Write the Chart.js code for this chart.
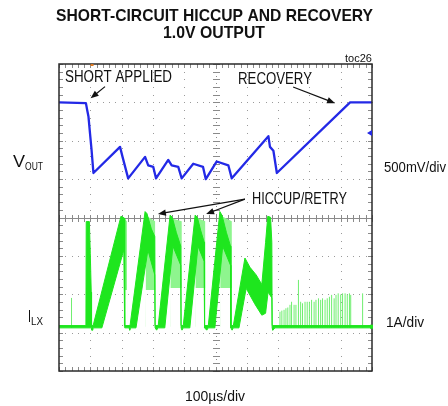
<!DOCTYPE html>
<html>
<head>
<meta charset="utf-8">
<script src="https://cdn.jsdelivr.net/npm/chart.js@4.4.1/dist/chart.umd.min.js"></script>
<style>
  html, body { margin: 0; padding: 0; background: #fff; }
  canvas { display: block; }
</style>
</head>
<body>
<canvas id="scope" width="448" height="406"></canvas>
<script>
// time axis: 100us/div, 10 divs
// VOUT in volts (500mV/div), ILX in amps (1A/div)
const voutT = [0, 86, 90, 94, 99, 104, 110, 195, 203, 221, 275, 285, 301, 310, 349, 360, 381, 392, 429, 460, 469, 504, 541, 552, 669, 674, 685, 696, 930, 1000];
const voutV = [1.0, 0.99, 0.9, 0.82, 0.6, 0.38, 0.08, 0.42, 0.29, 0.01, 0.29, 0.18, 0.16, 0.01, 0.25, 0.18, 0.16, 0.01, 0.2, 0.16, 0.0, 0.23, 0.18, 0.01, 0.56, 0.42, 0.37, 0.08, 1.0, 1.0];

// inductor current - upper and lower edge of the dense switching band
const ilHiT = [0, 86, 87, 97, 100, 103, 104, 109, 198, 209, 210, 227, 275, 281, 295, 306, 307, 317, 355, 362, 375, 389, 390, 397, 435, 442, 453, 464, 465, 477, 514, 521, 535, 548, 549, 557, 594, 610, 630, 648, 660, 667, 676, 680, 681, 1000];
const ilHiA = [0.03, 0.03, 2.74, 2.74, 1.9, 0.9, 0.03, 0.03, 2.88, 2.83, 0.03, 0.03, 3.0, 2.95, 2.55, 2.35, 0.03, 0.03, 2.91, 2.85, 2.45, 2.1, 0.03, 0.03, 2.91, 2.85, 2.5, 2.2, 0.03, 0.03, 3.0, 2.9, 2.45, 2.1, 0.03, 0.03, 1.79, 1.55, 1.35, 1.1, 2.2, 2.88, 2.85, 2.2, 0.03, 0.03];
const ilLoT = [0, 104, 105, 108, 109, 137, 207, 210, 224, 226, 228, 246, 284, 306, 307, 312, 316, 338, 364, 389, 390, 393, 397, 418, 444, 464, 465, 472, 477, 498, 523, 548, 549, 553, 557, 575, 598, 625, 648, 660, 668, 680, 681, 683, 690, 1000];
const ilLoA = [-0.03, -0.03, -0.09, -0.09, -0.03, -0.03, 2.0, -0.03, -0.03, -0.09, -0.03, -0.03, 2.0, 1.35, -0.03, -0.09, -0.03, -0.03, 2.1, 1.6, -0.03, -0.09, -0.03, -0.03, 2.1, 1.7, -0.03, -0.09, -0.03, -0.03, 2.1, 1.6, -0.03, -0.09, -0.03, -0.03, 1.0, 0.6, 0.3, 0.35, 0.9, 0.75, -0.03, -0.09, -0.03, -0.03];

// faint ringing after each hiccup peak
const lightT = [0, 207, 207.5, 217, 217.5, 277, 277.5, 307, 307.5, 356, 356.5, 392, 392.5, 436, 436.5, 467, 467.5, 515, 515.5, 552, 552.5, 1000];
const lightHiA = [0, 0, 2.83, 2.75, 0, 0, 2.9, 2.75, 0, 0, 2.83, 2.75, 0, 0, 2.85, 2.75, 0, 0, 2.9, 2.75, 0, 0];
const lightLoA = [0, 0, 0.96, 0.96, 0, 0, 0.96, 0.96, 0, 0, 1.01, 1.01, 0, 0, 1.01, 1.01, 0, 0, 1.01, 1.01, 0, 0];

// single switching pulses during recovery
const spikeT = [40, 706, 712, 719, 725, 731, 738, 743, 751, 757, 765, 772, 778, 786, 793, 800, 807, 815, 821, 829, 836, 842, 850, 857, 864, 871, 879, 885, 892, 900, 906, 914, 921, 928, 932, 970];
const spikeA = [0.75, 0.39, 0.42, 0.44, 0.48, 0.5, 0.57, 0.65, 0.57, 0.57, 1.22, 0.65, 0.61, 0.65, 0.65, 0.65, 0.7, 0.65, 0.7, 0.74, 0.7, 0.74, 0.7, 0.74, 0.78, 0.83, 0.74, 0.83, 0.87, 0.84, 0.87, 0.87, 0.84, 0.87, 0.83, 0.87];

// screen placement of each channel (in divisions from the bottom)
const VOUT_ZERO = 5, VOUT_PER_DIV = 0.5;
const ILX_ZERO = 1.154, ILX_PER_DIV = 1;

const vDiv = v => VOUT_ZERO + v / VOUT_PER_DIV;
const iDiv = a => ILX_ZERO + a / ILX_PER_DIV;
const pts = (ts, vs, f) => ts.map((t, i) => ({ x: t, y: f(vs[i]) }));

const spikePts = [];
spikeT.forEach((t, i) => {
    spikePts.push({ x: t, y: iDiv(-0.03) }, { x: t, y: iDiv(spikeA[i]) }, { x: t, y: null });
});

const BLUE = '#2329e6';
const GREEN = '#1ee61e';
const LIGHT_GREEN = '#8ef58e';
const SPIKE_GREEN = '#6fee6f';

function fitText(ctx, text, x, y, width, font, align) {
    ctx.save();
    ctx.font = font;
    ctx.textBaseline = 'alphabetic';
    ctx.textAlign = 'left';
    const w = ctx.measureText(text).width;
    const sx = width / w;
    let left = x;
    if (align === 'center') left = x - width / 2;
    if (align === 'right') left = x - width;
    ctx.translate(left, y);
    ctx.scale(sx, 1);
    ctx.fillText(text, 0, 0);
    ctx.restore();
}

function arrow(ctx, x1, y1, x2, y2) {
    const a = Math.atan2(y2 - y1, x2 - x1);
    const len = 8, half = 3.2;
    ctx.beginPath();
    ctx.moveTo(x1, y1);
    ctx.lineTo(x2 - Math.cos(a) * len * 0.8, y2 - Math.sin(a) * len * 0.8);
    ctx.stroke();
    ctx.beginPath();
    ctx.moveTo(x2, y2);
    ctx.lineTo(x2 - Math.cos(a) * len + Math.sin(a) * half, y2 - Math.sin(a) * len - Math.cos(a) * half);
    ctx.lineTo(x2 - Math.cos(a) * len - Math.sin(a) * half, y2 - Math.sin(a) * len + Math.cos(a) * half);
    ctx.closePath();
    ctx.fill();
}

const scopeScreen = {
    id: 'scopeScreen',
    beforeDatasetsDraw(chart) {
        const { ctx, chartArea: a } = chart;
        const xs = chart.scales.x, ys = chart.scales.y;
        const px = d => Math.round(xs.getPixelForValue(d * 100));
        const py = d => Math.round(ys.getPixelForValue(d));
        ctx.save();
        ctx.fillStyle = '#9a9a9a';
        // dotted graticule
        for (let i = 1; i < 10; i++) {
            if (i === 5) continue;
            for (let j = 0; j <= 40; j++) ctx.fillRect(px(i), py(j / 5), 1, 1);
        }
        for (let k = 1; k < 8; k++) {
            if (k === 4) continue;
            for (let i = 0; i <= 50; i++) ctx.fillRect(px(i / 5), py(k), 1, 1);
        }
        // centre lines with minor ticks
        ctx.fillStyle = '#8a8a8a';
        ctx.fillRect(a.left, py(4), a.right - a.left, 1);
        for (let i = 0; i <= 50; i++) ctx.fillRect(px(i / 5), py(4) - 3, 1, 7);
        for (let j = 0; j <= 40; j++) {
            ctx.fillRect(px(5) - 3, py(j / 5), 7, 1);
        }
        for (let j = 0; j <= 80; j++) ctx.fillRect(px(5), Math.round(a.top + j * (a.bottom - a.top) / 80), 1, 1);
        // edge ticks
        for (let i = 0; i <= 50; i++) {
            ctx.fillRect(px(i / 5), a.top, 1, 4);
            ctx.fillRect(px(i / 5), a.bottom - 4, 1, 4);
        }
        for (let j = 0; j <= 40; j++) {
            ctx.fillRect(a.left, py(j / 5), 4, 1);
            ctx.fillRect(a.right - 4, py(j / 5), 4, 1);
        }
        ctx.restore();
    },
    afterDatasetsDraw(chart) {
        const { ctx, chartArea: a } = chart;
        const xs = chart.scales.x, ys = chart.scales.y;
        const px = t => xs.getPixelForValue(t);
        const py = d => ys.getPixelForValue(d);
        ctx.save();
        ctx.strokeStyle = '#2a2a2a';
        ctx.lineWidth = 1.5;
        ctx.strokeRect(a.left, a.top, a.right - a.left, a.bottom - a.top);

        // channel markers
        ctx.fillStyle = BLUE;
        ctx.beginPath();
        ctx.moveTo(a.right - 5, py(6.2));
        ctx.lineTo(a.right, py(6.2) - 3);
        ctx.lineTo(a.right, py(6.2) + 3);
        ctx.closePath();
        ctx.fill();
        ctx.fillStyle = GREEN;
        ctx.fillRect(a.right - 2, py(ILX_ZERO) - 2, 3, 4);
        ctx.fillStyle = '#e07a20';
        ctx.fillRect(px(104) - 1, a.top, 3, 2);

        // annotations
        ctx.fillStyle = '#111';
        ctx.strokeStyle = '#111';
        ctx.lineWidth = 1.2;
        arrow(ctx, px(147), py(7.41), px(101), py(7.11));
        arrow(ctx, px(748), py(7.40), px(882), py(6.98));
        arrow(ctx, px(594), py(4.48), px(316), py(4.09));
        arrow(ctx, px(594), py(4.48), px(470), py(4.09));

        const f = 'Liberation Sans, Arial, sans-serif';
        fitText(ctx, 'SHORT APPLIED', 65, 82, 107, '16px ' + f);
        fitText(ctx, 'RECOVERY', 238, 84, 74, '16px ' + f);
        fitText(ctx, 'HICCUP/RETRY', 252, 204, 95, '16px ' + f);

        fitText(ctx, 'SHORT-CIRCUIT HICCUP AND RECOVERY', 214.5, 21, 317, 'bold 17px ' + f, 'center');
        fitText(ctx, '1.0V OUTPUT', 214, 38, 102, 'bold 17px ' + f, 'center');
        fitText(ctx, 'toc26', 372, 62, 27, '10px ' + f, 'right');

        fitText(ctx, 'V', 13, 167, 12, '16px ' + f);
        fitText(ctx, 'OUT', 25, 170, 18, '11px ' + f);
        fitText(ctx, 'I', 28, 322, 3, '16px ' + f);
        fitText(ctx, 'LX', 31, 325, 12, '11px ' + f);

        fitText(ctx, '500mV/div', 384, 172, 62, '15px ' + f);
        fitText(ctx, '1A/div', 386, 327, 38, '15px ' + f);
        fitText(ctx, '100µs/div', 185, 401, 60, '15px ' + f);
        ctx.restore();
    }
};

new Chart(document.getElementById('scope'), {
    type: 'line',
    data: {
        datasets: [
            {
                label: 'VOUT',
                data: pts(voutT, voutV, vDiv),
                borderColor: BLUE,
                borderWidth: 2.3,
                borderJoinStyle: 'round',
                fill: false,
                order: 1
            },
            {
                label: 'ILX high',
                data: pts(ilHiT, ilHiA, iDiv),
                borderColor: GREEN,
                backgroundColor: GREEN,
                borderWidth: 1,
                fill: '+1',
                order: 3
            },
            {
                label: 'ILX low',
                data: pts(ilLoT, ilLoA, iDiv),
                borderColor: GREEN,
                borderWidth: 1,
                fill: false,
                order: 3
            },
            {
                label: 'ILX ring high',
                data: pts(lightT, lightHiA, iDiv),
                borderColor: 'rgba(0,0,0,0)',
                backgroundColor: LIGHT_GREEN,
                borderWidth: 0,
                fill: '+1',
                order: 5
            },
            {
                label: 'ILX ring low',
                data: pts(lightT, lightLoA, iDiv),
                borderColor: 'rgba(0,0,0,0)',
                borderWidth: 0,
                fill: false,
                order: 5
            },
            {
                label: 'ILX pulses',
                data: spikePts,
                borderColor: SPIKE_GREEN,
                borderWidth: 1,
                spanGaps: false,
                fill: false,
                order: 4
            }
        ]
    },
    options: {
        responsive: false,
        animation: false,
        events: [],
        layout: { padding: { left: 59, right: 76, top: 64, bottom: 35 } },
        elements: { point: { radius: 0 }, line: { tension: 0 } },
        scales: {
            x: { type: 'linear', min: 0, max: 1000, display: false },
            y: { type: 'linear', min: 0, max: 8, display: false }
        },
        plugins: {
            legend: { display: false },
            tooltip: { enabled: false },
            filler: { propagate: false }
        }
    },
    plugins: [scopeScreen]
});
</script>
</body>
</html>
